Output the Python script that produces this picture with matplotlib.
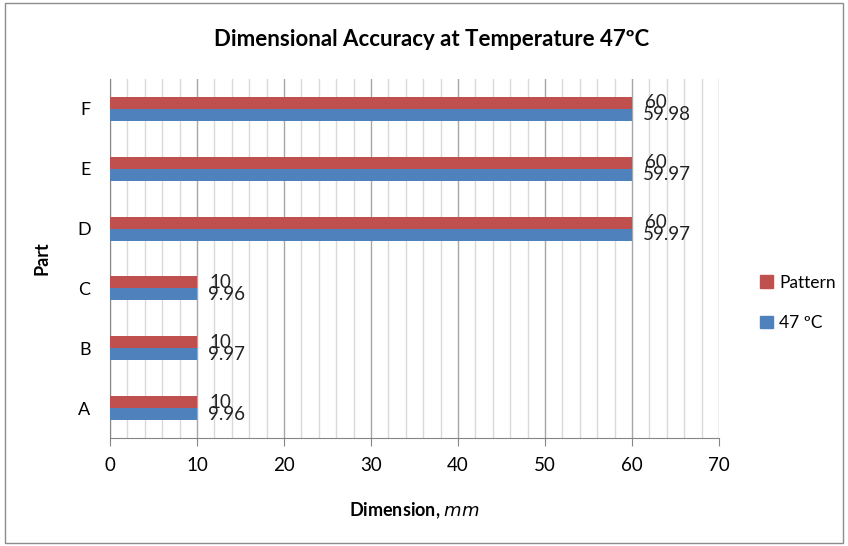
import numpy as np
import matplotlib
matplotlib.use("Agg")
from matplotlib import pyplot as plt
from matplotlib.patches import Rectangle, Patch

plt.rcParams['font.family'] = ['Lato', 'DejaVu Sans']

parts = ["A", "B", "C", "D", "E", "F"]
pattern = [10, 10, 10, 60, 60, 60]
temp_47 = [9.96, 9.97, 9.96, 59.97, 59.97, 59.98]

red = "#c0504d"
blue = "#4f81bd"

fig = plt.figure(figsize=(8.48, 5.46), dpi=100)
ax = fig.add_axes([110 / 848, 1 - 438 / 546, 609 / 848, 359 / 546])

y = np.arange(len(parts))
h = 0.2
ax.barh(y + h / 2, pattern, height=h, color=red, zorder=3)
ax.barh(y - h / 2, temp_47, height=h, color=blue, zorder=3)

# value labels just right of each bar end
for yi, p, t in zip(y, pattern, temp_47):
    ax.annotate(f"{p:g}", (p, yi + h / 2), xytext=(9, 0), textcoords="offset points",
                va="center", ha="left", fontsize=13.5, color="#222222")
    ax.annotate(f"{t:g}", (t, yi - h / 2), xytext=(8, 0), textcoords="offset points",
                va="center", ha="left", fontsize=13.5, color="#222222")

ax.set_xlim(0, 70)
ax.set_ylim(-0.5, 5.5)
ax.set_xticks(np.arange(0, 71, 10))
ax.set_xticks(np.arange(0, 71, 2), minor=True)
ax.set_yticks(y)
ax.set_yticklabels(parts)
ax.grid(axis="x", which="major", color="#a6a6a6", linewidth=1.0, zorder=0)
ax.grid(axis="x", which="minor", color="#d9d9d9", linewidth=1.0, zorder=0)
ax.tick_params(axis="x", which="major", length=6, color="#868686", labelsize=13.5, pad=8)
ax.tick_params(axis="x", which="minor", length=0)
ax.tick_params(axis="y", length=0, labelsize=13, pad=14)
for side in ("top", "right"):
    ax.spines[side].set_visible(False)
for side in ("left", "bottom"):
    ax.spines[side].set_color("#868686")

ax.set_xlabel("Dimension, $\\mathit{mm}$", fontsize=13, fontweight="bold", labelpad=19)
ax.set_ylabel("Part", fontsize=13, fontweight="bold", labelpad=19)

fig.text(432 / 848, 1 - 40 / 546, "Dimensional Accuracy at Temperature 47ºC",
         ha="center", va="center", fontsize=16, fontweight="bold")

handles = [Patch(color=red), Patch(color=blue)]
fig.legend(handles, ["Pattern", "47 ºC"], loc="center left",
           bbox_to_anchor=(748 / 848, 1 - 303 / 546), frameon=False, fontsize=12.5,
           handlelength=0.75, handleheight=0.75, handletextpad=0.35, labelspacing=1.4,
           borderpad=0.2)

fig.patches.append(Rectangle((5 / 848, 3 / 546), 838 / 848, 540 / 546,
                             transform=fig.transFigure, fill=False,
                             edgecolor="#8c8c8c", linewidth=1.0))

fig.savefig("out.png", dpi=100)
